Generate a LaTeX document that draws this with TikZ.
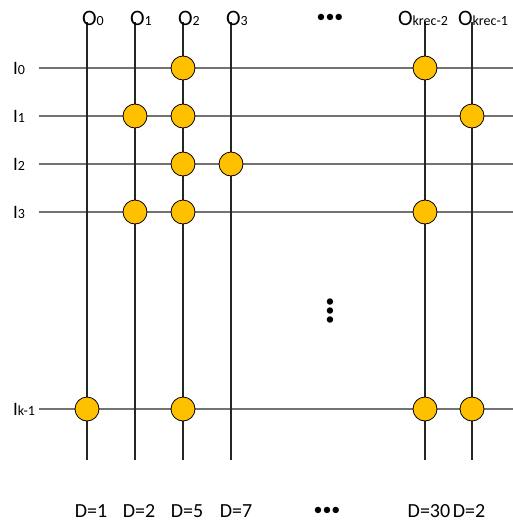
\documentclass[tikz,border=0pt]{standalone}
\usepackage{fontspec}
\setmainfont{Carlito}
\definecolor{hitfill}{HTML}{FFC000}
\begin{document}
\begin{tikzpicture}[
    x=1pt, y=-1pt,
    every node/.style={inner sep=0pt, outer sep=0pt},
    rowline/.style={draw=black!55, line width=1.5pt},
    colline/.style={draw=black!85, line width=1.1pt},
    hit/.style={circle, draw=black, line width=0.8pt, fill=hitfill, minimum size=24pt},
    outlbl/.style={anchor=base west, font=\fontsize{22}{22}\selectfont},
    inlbl/.style={anchor=base west, font=\fontsize{19}{19}\selectfont},
    dlbl/.style={anchor=base, font=\fontsize{20}{20}\selectfont},
    ellip/.style={font=\fontsize{18}{18}\selectfont}
    ]
    \useasboundingbox (0,0) rectangle (513,522);

    % input rows
    \foreach \n/\y/\s in {0/68/0, 1/116/1, 2/164/2, 3/212/3, 4/409/k-1}{
        \node[inlbl] (in\n) at (13,\y+6) {I{\fontsize{14}{14}\selectfont\s}};
        \coordinate (start\n) at (39,\y);
        \coordinate (end\n) at (513,\y);
        \draw[rowline] (start\n) -- (end\n);
    }

    % output columns
    \foreach \n/\x/\lx/\s in {0/87/82/0, 1/135/130/1, 2/183/178/2, 3/231/226/3, 4/425/398/krec-2, 5/472/458/krec-1}{
        \coordinate (top\n) at (\x,22);
        \coordinate (bot\n) at (\x,460);
        \draw[colline] (top\n) -- (bot\n);
        \node[outlbl] (out\n) at (\lx,25) {O{\fontsize{14}{14}\selectfont\s}};
    }

    % connections
    \foreach \c/\r in {2/0, 4/0, 1/1, 2/1, 5/1, 2/2, 3/2, 1/3, 2/3, 4/3, 0/4, 2/4, 4/4, 5/4}{
        \node[hit] (hit\c\r) at (top\c |- start\r) {};
    }

    % degrees
    \foreach \x/\t [count=\i] in {91/D=1, 139/D=2, 187/D=5, 236/D=7, 429/D=30, 469/D=2}{
        \node[dlbl] (deg\i) at (\x,517) {\t};
    }

    \node[ellip] (topdots) at (330,18) {•••};
    \node[ellip] (botdots) at (327,511) {•••};
    \node[ellip, rotate=90] (middots) at (331,311) {•••};
\end{tikzpicture}
\end{document}
